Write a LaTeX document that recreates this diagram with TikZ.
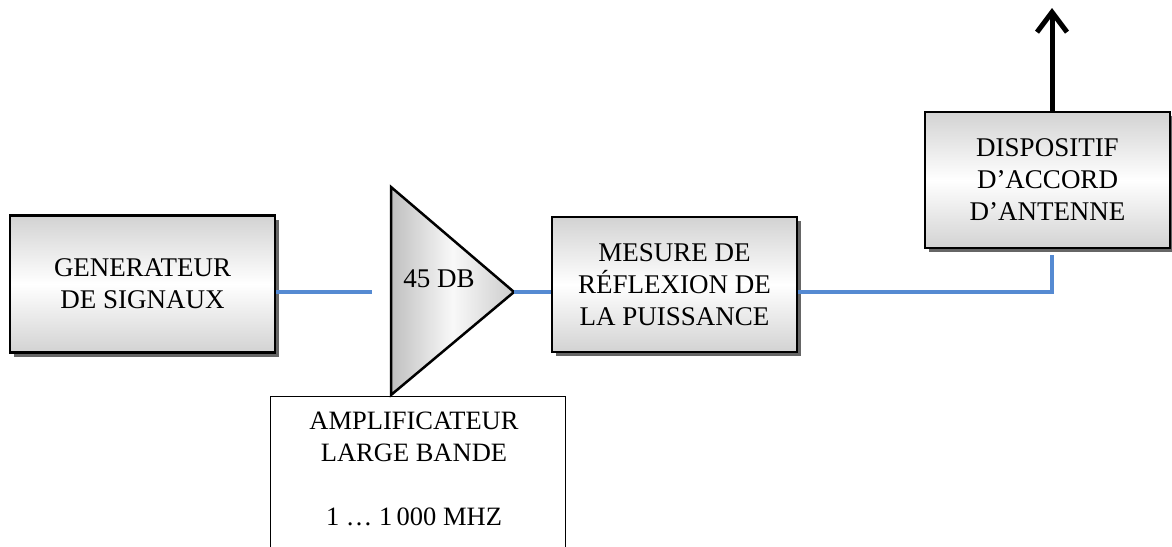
\documentclass[tikz,border=0pt]{standalone}
\usepackage{fontspec}
\setmainfont{Liberation Serif}
\usetikzlibrary{shadows,arrows.meta,calc}
\definecolor{linkblue}{RGB}{85,138,210}
\tikzset{
  blockbox/.style={draw=black, line width=2.5pt, top color=gray!35, bottom color=gray!35, middle color=white,
    drop shadow={shadow xshift=4pt, shadow yshift=-4pt, fill=black!60, opacity=1},
    align=center, inner sep=0pt, font=\fontsize{27}{32}\selectfont},
  link/.style={draw=linkblue, line width=3.2pt},
  labelbox/.style={draw=black, line width=1pt, fill=white, align=center, inner sep=0pt},
}
\begin{document}
\begin{tikzpicture}[x=1pt,y=-1pt]
\useasboundingbox (0,0) rectangle (1172,546);
% amplifier label box (bottom edge outside the picture)
\node[labelbox, anchor=north, minimum width=295pt, minimum height=170pt] (amplabel) at (417.5,396) {};
\node[font=\fontsize{26.5}{32}\selectfont, align=center, anchor=north] (amptext) at (414,408) {AMPLIFICATEUR\\LARGE BANDE\\[32pt]1 … 1\,000 MHZ};
% blocks
\node[blockbox, minimum width=265pt, minimum height=137pt] (gen) at (142.5,284) {GENERATEUR\\DE SIGNAUX};
\node[blockbox, minimum width=245pt, minimum height=135pt] (mes) at (674.5,284.5) {MESURE DE\\RÉFLEXION DE\\LA PUISSANCE};
\node[blockbox, minimum width=245pt, minimum height=136pt] (ant) at (1047.5,180) {DISPOSITIF\\D’ACCORD\\D’ANTENNE};
% amplifier triangle
\coordinate (tritop) at (391,187);
\coordinate (tribot) at (391,395);
\coordinate (tritip) at (514,292);
\coordinate (ampin) at (372,292);
\path[draw=black, line width=2.5pt, line join=miter, left color=gray!50, right color=gray!40, middle color=gray!5]
  (tritop) -- (tritip) -- (tribot) -- cycle;
\node[font=\fontsize{27}{32}\selectfont] (gain) at (439,279) {45 DB};
% connectors
\draw[link] (gen.east |- ampin) -- (ampin);
\draw[link] (tritip) -- (tritip -| mes.west);
\draw[link] (mes.east |- tritip) -| ($(ant.south)+(4.5,6)$);
% antenna arrow
\coordinate (sky) at (1052,8);
\draw[line width=5pt, -{Straight Barb[length=20pt,width=30pt,line width=5pt]}] ($(ant.north)+(4.5,0)$) -- (sky);
\end{tikzpicture}
\end{document}
